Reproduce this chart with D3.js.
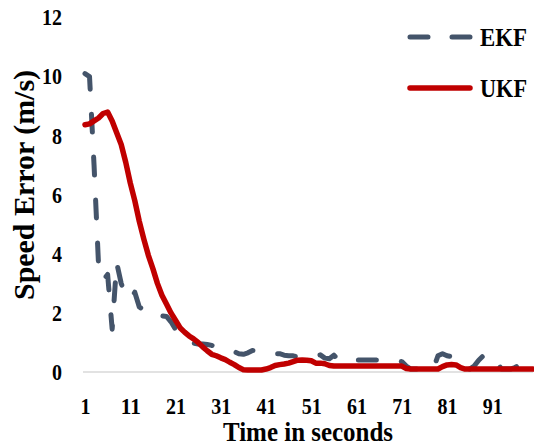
<!DOCTYPE html>
<html>
<head>
<meta charset="utf-8">
<script src="https://cdn.jsdelivr.net/npm/d3@7"></script>
<style>
    body { margin: 0; background: #fff; }
    #vis-container { width: 534px; height: 447px; }
    text { font-family: "Liberation Serif", "Times New Roman", serif; font-weight: bold; fill: #000; }
</style>
</head>
<body>
<div id="vis-container"></div>
<script>
"use strict";

// Time axis categories (seconds)
const timeSteps = d3.range(1, 101);
const xTickValues = [1, 11, 21, 31, 41, 51, 61, 71, 81, 91];
const yTickValues = [0, 2, 4, 6, 8, 10, 12];

// Speed error of each filter, one value per second
const ekfError = [
    10.1, 10.0, 7.0, 3.6, 3.1, 3.3, 1.45, 3.7, 3.0, 2.6,
    2.45, 2.7, 2.2, 2.1, 2.0, 1.9, 1.85, 1.9, 1.88, 1.7,
    1.45, 1.3, 1.15, 1.05, 0.98, 0.95, 0.95, 0.93, 0.9, 0.85,
    0.8, 0.75, 0.72, 0.69, 0.62, 0.6, 0.65, 0.73, 0.72, 0.7,
    0.68, 0.65, 0.62, 0.62, 0.57, 0.55, 0.55, 0.5, 0.5, 0.5,
    0.52, 0.55, 0.58, 0.47, 0.45, 0.57, 0.4, 0.4, 0.4, 0.4,
    0.41, 0.41, 0.41, 0.41, 0.41, 0.4, 0.4, 0.4, 0.38, 0.37,
    0.35, 0.2, 0.1, 0.1, 0.1, 0.1, 0.1, 0.12, 0.55, 0.62,
    0.55, 0.52, 0.45, 0.3, 0.1, 0.1, 0.2, 0.4, 0.55, 0.58,
    0.58, 0.35, 0.1, 0.1, 0.1, 0.15, 0.25, 0.3, 0.3, 0.3
];

const ukfError = [
    8.37, 8.4, 8.5, 8.6, 8.75, 8.8, 8.5, 8.1, 7.7, 7.1,
    6.4, 5.8, 5.1, 4.5, 3.95, 3.5, 3.0, 2.6, 2.3, 2.0,
    1.75, 1.5, 1.35, 1.22, 1.12, 1.0, 0.85, 0.72, 0.6, 0.55,
    0.48, 0.42, 0.33, 0.25, 0.15, 0.08, 0.07, 0.07, 0.07, 0.07,
    0.1, 0.15, 0.22, 0.25, 0.27, 0.3, 0.35, 0.4, 0.41, 0.4,
    0.38, 0.3, 0.3, 0.28, 0.22, 0.2, 0.2, 0.2, 0.2, 0.2,
    0.2, 0.2, 0.2, 0.2, 0.2, 0.2, 0.2, 0.2, 0.2, 0.2,
    0.2, 0.12, 0.1, 0.1, 0.1, 0.1, 0.1, 0.1, 0.1, 0.18,
    0.24, 0.25, 0.24, 0.15, 0.1, 0.1, 0.1, 0.1, 0.1, 0.1,
    0.1, 0.1, 0.1, 0.1, 0.1, 0.1, 0.1, 0.1, 0.1, 0.1
];

const seriesNames = ["EKF", "UKF"];
const seriesColors = ["#44546A", "#C00000"];

function mainIndex()
{
    const width = 534;
    const height = 447;

    // plot area edges, in pixels
    const plot = { left: 85, right: 533, top: 17.5, bottom: 372 };

    const x = d3.scaleLinear().domain([1, 100]).range([plot.left, plot.right]);
    const y = d3.scaleLinear().domain([0, 12]).range([plot.bottom, plot.top]);

    const svg = d3.select("#vis-container")
        .append("svg")
        .attr("width", width)
        .attr("height", height);

    // Zero baseline
    svg.append("line")
        .attr("x1", plot.left - 2)
        .attr("x2", plot.right)
        .attr("y1", y(0))
        .attr("y2", y(0))
        .style("stroke", "#D9D9D9")
        .style("stroke-width", 1.5);

    // y-axis labels
    const yAxis = svg.append("g")
        .attr("transform", `translate(${plot.left}, 0)`)
        .call(d3.axisLeft(y).tickValues(yTickValues).tickSize(0).tickPadding(23));
    yAxis.select(".domain").remove();
    yAxis.selectAll("text")
        .attr("font-size", 23)
        .attr("font-family", null)
        .attr("textLength", d => String(d).length * 10)
        .attr("lengthAdjust", "spacingAndGlyphs");

    // x-axis labels
    const xAxis = svg.append("g")
        .attr("transform", `translate(0, ${plot.bottom})`)
        .call(d3.axisBottom(x).tickValues(xTickValues).tickSize(0).tickPadding(26));
    xAxis.select(".domain").remove();
    xAxis.selectAll("text")
        .attr("font-size", 23)
        .attr("font-family", null)
        .attr("textLength", d => String(d).length * 10)
        .attr("lengthAdjust", "spacingAndGlyphs");

    // Axis titles
    svg.append("text")
        .attr("x", 308)
        .attr("y", 441)
        .attr("text-anchor", "middle")
        .attr("font-size", 27)
        .attr("textLength", 170)
        .attr("lengthAdjust", "spacingAndGlyphs")
        .text("Time in seconds");

    svg.append("text")
        .attr("transform", "translate(34, 185) rotate(-90)")
        .attr("text-anchor", "middle")
        .attr("font-size", 29)
        .attr("textLength", 230)
        .attr("lengthAdjust", "spacingAndGlyphs")
        .text("Speed Error (m/s)");

    // Lines
    const series = [ekfError, ukfError];
    const line = d3.line()
        .x((d, i) => x(timeSteps[i]))
        .y(d => y(d));

    svg.append("path")
        .datum(series[0])
        .attr("d", line)
        .style("fill", "none")
        .style("stroke", seriesColors[0])
        .style("stroke-width", 5)
        .style("stroke-dasharray", "18,25")
        .style("stroke-linecap", "round")
        .style("stroke-linejoin", "round");

    svg.append("path")
        .datum(series[1])
        .attr("d", line)
        .style("fill", "none")
        .style("stroke", seriesColors[1])
        .style("stroke-width", 5.5)
        .style("stroke-linecap", "round")
        .style("stroke-linejoin", "round");

    // Legend
    const legend = svg.selectAll(".legend-item")
        .data(seriesNames)
        .enter()
        .append("g")
        .attr("class", "legend-item")
        .attr("transform", (d, i) => `translate(0, ${37 + i * 51})`);

    legend.append("line")
        .attr("x1", 410)
        .attr("x2", 470)
        .style("stroke", (d, i) => seriesColors[i])
        .style("stroke-width", (d, i) => i === 0 ? 5 : 5.5)
        .style("stroke-dasharray", (d, i) => i === 0 ? "18,24" : null)
        .style("stroke-linecap", "round");

    legend.append("text")
        .attr("x", 480)
        .attr("dy", "0.33em")
        .attr("font-size", 26)
        .attr("textLength", 47)
        .attr("lengthAdjust", "spacingAndGlyphs")
        .text(d => d);
}

document.addEventListener("DOMContentLoaded", mainIndex);
</script>
</body>
</html>
